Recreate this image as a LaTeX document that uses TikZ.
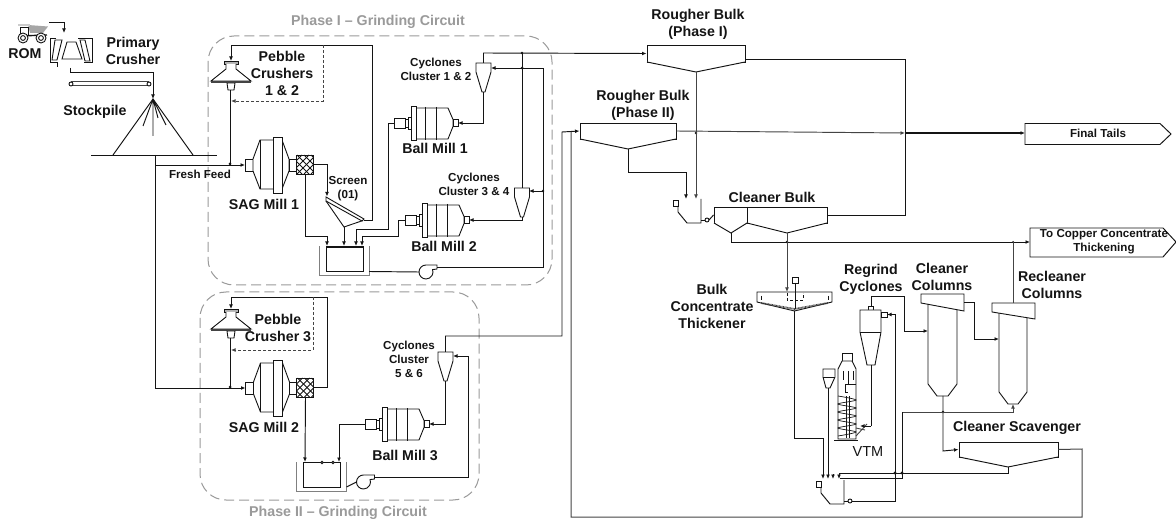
\documentclass[tikz,border=0pt]{standalone}
\usepackage{fontspec}
\setmainfont{Liberation Sans}
\usetikzlibrary{arrows.meta}
\definecolor{ink}{HTML}{141414}
\definecolor{mid}{HTML}{444444}
\definecolor{phase}{HTML}{9A9A9A}
\tikzset{
  pipe/.style={draw=ink,line width=.95pt},
  flow/.style={pipe,-{Latex[length=4.5pt,width=3.8pt]}},
  greyflow/.style={flow,draw=mid},
  equip/.style={draw=ink,line width=.9pt,fill=white},
  lab/.style={font=\fontsize{14.2}{17}\selectfont\bfseries,align=center,inner sep=0pt,text=ink},
  slab/.style={font=\fontsize{11.6}{14}\selectfont\bfseries,align=center,inner sep=0pt,text=ink},
  phaselab/.style={lab,text=phase},
  circuit/.style={draw=phase,line width=1pt,dash pattern=on 10pt off 5pt,rounded corners=26pt},
  cell/.style={draw=ink,line width=.95pt,inner sep=0pt,fill=white},
  dot/.style={fill=ink},
  pics/ballmill/.style={code={
    \draw[equip] (0,-5) rectangle (11,5);
    \draw[equip] (11,-4) rectangle (17,4);
    \draw[equip] (14,-6) rectangle (17,6);
    \draw[equip] (22,-15) -- (54,-15) -- (59,-3.5) -- (59,3.5) -- (54,16) -- (22,16) -- cycle;
    \draw[equip] (17,-17) rectangle (22,17);
    \draw[equip] (31,-16) -- (31,17) (42,-16) -- (42,17);
    \draw[equip] (59,-3.5) rectangle (64,3.5);
    \coordinate (-in) at (0,0);
    \coordinate (-out) at (64,0);
  }},
  pics/sagmill/.style={code={
    \draw[equip] (0,-6) rectangle (8,6);
    \draw[equip] (8,-6) -- (15,-25) -- (37,-25) -- (44,-6) -- (44,6) -- (37,24) -- (15,24) -- (8,6) -- cycle;
    \draw[equip] (15,-25) -- (15,24);
    \draw[equip] (28,-28) rectangle (37,28);
    \draw[equip] (44,-6) rectangle (51,6);
    \draw[equip] (51,-10) rectangle (68,9);
    \begin{scope}
      \clip (51,-10) rectangle (68,9);
      \foreach \k in {-20,-13,...,22}{
        \draw[ink,line width=.8pt] (51+\k,-10) -- (70+\k,9);
        \draw[ink,line width=.8pt] (70+\k,-10) -- (51+\k,9);
      }
    \end{scope}
    \draw[equip,fill=none] (51,-10) rectangle (68,9);
    \coordinate (-in) at (0,0);
    \coordinate (-east) at (68,-1);
    \coordinate (-south) at (60,9);
  }},
  pics/pebble/.style={code={
    \draw[equip,fill=gray!60] (-7,-9) rectangle (7,-6);
    \draw[equip] (-5,-6) -- (-5,-1) -- (-20,11) -- (20,11) -- (5,-1) -- (5,-6);
    \draw[draw=mid,line width=2pt] (-20,12) -- (20,12);
    \draw[equip] (-4,13) -- (4,13) -- (3,20) -- (-3,20) -- cycle;
    \coordinate (-top) at (0,-9);
    \coordinate (-out) at (-1,20);
  }},
  pics/cyclone/.style={code={
    \draw[equip] (-7.5,0) -- (7.5,0) -- (7.5,9) -- (1.5,29) -- (-1.5,29) -- (-7.5,9) -- cycle;
    \coordinate (-top) at (0,0);
    \coordinate (-in) at (7.5,4);
    \coordinate (-tip) at (0,29);
  }},
  pics/sump/.style={code={
    \draw[draw=gray,line width=1pt] (-7,0) -- (-7,29) -- (43,29) -- (43,0);
    \draw[draw=ink,line width=.95pt] (0,0) -- (0,25) -- (37,25) -- (37,0);
    \draw[draw=ink,line width=1.5pt] (0,0.5) -- (37,0.5);
    \coordinate (-out) at (43,25);
  }},
  pics/pump/.style={code={
    \draw[equip] (11,-7) -- (0,-7) arc[start angle=90,end angle=380,radius=7pt] -- (11,-3) -- cycle;
    \coordinate (-in) at (-7,0);
    \coordinate (-out) at (11,-5);
  }},
  pics/hopper/.style={code={
    \draw[equip] (0,0) rectangle (5,6);
    \draw[draw=ink,line width=.95pt] (5,6) -- (5,12) -- (14,23) -- (28,23) -- (28,-1);
    \draw[draw=ink,line width=.9pt] (28,20) -- (32,20);
    \draw[equip] (34,20) circle (2pt);
    \coordinate (-out) at (36,20);
  }},
}
\begin{document}
\begin{tikzpicture}[x=1pt,y=-1pt]
\useasboundingbox (0,0) rectangle (1176,521);
\fill[white] (0,0) rectangle (1176,521);

% circuits
\draw[circuit] (208,36) rectangle (552,285);
\draw[circuit] (200,292) rectangle (479,500);
\node[phaselab] (ph1) at (378,22) {Phase I -- Grinding Circuit};
\node[phaselab] (ph2) at (338,513) {Phase II -- Grinding Circuit};

% ROM truck and crusher
\fill[gray!70] (28,25) -- (48,26.5) -- (43,33) -- (30,33) -- cycle;
\fill[gray!40] (18,24) rectangle (30,26);
\draw[equip] (20,27) rectangle (28,35);
\draw[ink,line width=1.4pt] (19,36) -- (47,35);
\draw[equip] (23,38) circle (5pt); \draw[equip] (23,38) circle (2.4pt);
\draw[equip] (41,38) circle (5pt); \draw[equip] (41,38) circle (2.4pt);
\draw[pipe] (56,38) -- (50,38) -- (50,62) -- (58,62);
\draw[pipe] (78,38) -- (92,38) -- (92,62) -- (84,62);
\draw[equip,fill=none] (55,40) -- (62,40) -- (57,60) -- (52,60) -- cycle;
\draw[equip,fill=none] (80,40) -- (85,40) -- (90,61) -- (85,61) -- cycle;
\draw[equip,fill=none] (67,42) -- (76,42) -- (82,59) -- (62,59) -- cycle;
\coordinate (truckout) at (49,22);
\coordinate (crushin) at (64,33);
\coordinate (crushstem) at (57,67);
\coordinate (crushout) at (70,68);
\draw[flow] (truckout) -- (64,22) -- (crushin);
\draw[pipe] (57,62) -- (crushstem);
\node[lab] (rom) at (25,54) {ROM};
\node[lab] (primary) at (133,50.5) {Primary\\Crusher};
\draw[draw=mid,line width=1pt] (71,82) -- (149,82) (71,85.5) -- (149,85.5);
\draw[equip] (71,84) circle (2pt); \draw[equip] (149,84) circle (2pt);

% stockpile
\coordinate (apex) at (153,99);
\draw[flow] (crushout) -- (70,72) -- (153,72) -- (apex);
\draw[pipe] (113,155) -- (apex) -- (193,155);
\draw[pipe] (apex) -- (153,136) (apex) -- (143,126) (apex) -- (166,125) (apex) -- (158,118);
\draw[pipe] (91,155) -- (217,155);
\node[lab] (stock) at (95,112) {Stockpile};

% SAG 1 circuit
\pic (sag1) at (245,165) {sagmill};
\pic (pc1) at (231,70) {pebble};
\draw[pipe] (155,155) -- (155,388);
\draw[flow] (155,165) -- (sag1-in);
\node[slab] (ff) at (200,174) {Fresh Feed};
\draw[pipe] (pc1-out) -- (230,165);
\fill[dot] (230,164) circle (1.5pt);
\node[lab] (pclab) at (282,73) {Pebble\\Crushers\\1 \& 2};
\node[lab] (sag1lab) at (264,204) {SAG Mill 1};
\draw[draw=ink,line width=.9pt] (326,197) -- (364,219) -- (362,221) -- (326,201) -- cycle;
\draw[draw=ink,line width=.9pt] (326,201) -- (344,227) -- (363,220.5);
\coordinate (scrtop) at (327,196.5);
\coordinate (scrright) at (364,220);
\coordinate (scrbot) at (344,227);
\draw[flow] (sag1-east) -- (327,164) -- (scrtop);
\node[slab] (scr) at (348,189) {Screen\\(01)};
\draw[flow] (scrright) -- (372,220) -- (372,45) -- (231,45) -- (pc1-top);
\draw[greyflow,densely dashed,line width=.8pt] (323,45) -- (323,101) -- (231,101);

\pic (tank1) at (326,246.5) {sump};
\coordinate (t1a) at (327,246);
\coordinate (t1b) at (344,246);
\coordinate (t1c) at (356,246);
\coordinate (t1d) at (362,246);
\draw[flow] (sag1-south) -- (305,236) -- (327,236) -- (t1a);
\draw[flow] (scrbot) -- (t1b);

\pic (pump1) at (426,272) {pump};
\draw[pipe] (tank1-out) -- (pump1-in);

\pic (bm1) at (394,123) {ballmill};
\node[lab] (bm1lab) at (435,148) {Ball Mill 1};
\pic (bm2) at (405,220) {ballmill};
\node[lab] (bm2lab) at (444,246) {Ball Mill 2};
\draw[flow] (bm1-in) -- (388,123) -- (388,229) -- (356,229) -- (t1c);
\draw[flow] (bm2-in) -- (398,220) -- (398,236) -- (362,236) -- (t1d);

\pic (cy1) at (483.5,63) {cyclone};
\pic (cy2) at (522,188) {cyclone};
\node[slab] (cy1lab) at (436,69.5) {Cyclones\\Cluster 1 \& 2};
\node[slab] (cy2lab) at (474,184) {Cyclones\\Cluster 3 \& 4};
\draw[flow] (cy1-tip) -- (483.5,123) -- (bm1-out);
\draw[flow] (cy2-tip) -- (522,220) -- (bm2-out);

\node[cell,minimum width=98pt,minimum height=17pt] (rough1) at (696,53.5) {};
\draw[pipe,fill=white] (647,62) -- (696,72) -- (745,62);
\node[lab] (r1lab) at (698,24.5) {Rougher Bulk\\(Phase I)};
\draw[flow] (cy1-top) -- (483.5,53) -- (rough1.west);
\draw[pipe] (cy2-top) -- (522,53);
\fill[dot] (522,53) circle (1.3pt);
\draw[flow] (pump1-out) -- (543,267) -- (543,68) -- (491,68);
\draw[flow] (543,191) -- (529,191);
\fill[dot] (522,68) circle (1.5pt);
\fill[dot] (543,191) circle (1.3pt);

% SAG 2 circuit
\pic (sag2) at (245.5,388) {sagmill};
\pic (pc3) at (231,318) {pebble};
\draw[flow] (155,388) -- (sag2-in);
\draw[pipe] (pc3-out) -- (230,388);
\fill[dot] (230,387) circle (1.5pt);
\node[lab] (pc3lab) at (278,327.5) {Pebble\\Crusher 3};
\node[lab] (sag2lab) at (264,427) {SAG Mill 2};
\draw[flow] (sag2-east) -- (327,387) -- (327,297) -- (231,297) -- (pc3-top);
\draw[greyflow,densely dashed,line width=.8pt] (313,297) -- (313,350) -- (231,350);
\pic (tank2) at (303.5,462) {sump};
\coordinate (t2a) at (305,462);
\coordinate (t2b) at (339,462);
\draw[flow] (sag2-south) -- (t2a);
\pic (pump2) at (363.5,482) {pump};
\draw[pipe] (tank2-out) -- (pump2-in);
\pic (bm3) at (365,424) {ballmill};
\node[lab] (bm3lab) at (405,455) {Ball Mill 3};
\draw[flow] (bm3-in) -- (339,424) -- (t2b);
\pic (cy3) at (445.5,352) {cyclone};
\node[slab] (cy3lab) at (409,359.5) {Cyclones\\Cluster\\5 \& 6};
\draw[flow] (cy3-tip) -- (445.5,424) -- (bm3-out);
\draw[flow] (pump2-out) -- (468,477) -- (468,356) -- (453,356);
\foreach \q in {322,333}{\draw[equip] (\q,462.5) circle (1.2pt);}

% Rougher 2
\node[cell,minimum width=96pt,minimum height=16pt] (rough2) at (628,131) {};
\draw[pipe,fill=white] (580,139) -- (628,149) -- (676,139);
\node[lab] (r2lab) at (643,105.5) {Rougher Bulk\\(Phase II)};
\draw[flow] (cy3-top) -- (445.5,336) -- (562,336) -- (562,132) -- (rough2.west);

% Final tails
\draw[pipe,fill=white] (1025,123.5) -- (1160,123.5) -- (1171,134) -- (1160,144.5) -- (1025,144.5) -- cycle;
\coordinate (tailsin) at (1025,133);
\node[slab] (tails) at (1098,133) {Final Tails};
\coordinate (rbus) at (905,133);
\draw[greyflow] (rough2.east) -- (rbus);
\draw[pipe,line width=1.4pt,-{Latex[length=4.5pt,width=3.8pt]}] (rbus) -- (tailsin);
\fill[dot] (696,133) circle (1.4pt);

% Cleaner bulk
\pic (h1) at (673,200) {hopper};
\coordinate (h1a) at (686,199);
\coordinate (h1b) at (696,199);
\draw[flow] (628,149) -- (628,172) -- (686,172) -- (h1a);
\draw[greyflow] (696,72) -- (h1b);
\node[cell,minimum width=113pt,minimum height=16pt] (clean) at (770.5,215) {};
\draw[pipe] (747,207) -- (747,223);
\draw[pipe,fill=white] (714,223) -- (731,233) -- (747,223) -- (787,233) -- (827,223);
\draw[pipe] (h1-out) -- (clean.west);
\node[lab] (cleanlab) at (772,197) {Cleaner Bulk};
\draw[pipe] (clean.east) -- (905,215) -- (905,59) -- (745,59);

% copper
\draw[pipe,fill=white] (1030,228) -- (1163,228) -- (1176,242) -- (1163,257) -- (1030,257) -- cycle;
\coordinate (cuin) at (1030,242);
\node[slab] (cu) at (1104,242) {To Copper Concentrate\\Thickening};
\draw[flow] (731,233) -- (731,242) -- (cuin);
\fill[dot] (787,242) circle (1.4pt);
\fill[dot] (1013,242) circle (1pt);

% thickener
\draw[equip] (757,292) -- (832,292) -- (832,302) -- (794.5,311) -- (757,302) -- cycle;
\draw[draw=mid,line width=1.8pt,dash pattern=on .8pt off .6pt] (761,303) -- (794.5,309) -- (828,303);
\draw[ink,line width=.7pt] (761,296) -- (761,300) (828,296) -- (828,300);
\draw[ink,line width=.7pt,densely dashed] (787,293) -- (787,300) -- (803,300) -- (803,293);
\draw[equip] (792,277) rectangle (798,283);
\draw[pipe] (795,283) -- (795,309);
\coordinate (thin) at (787,292);
\draw[greyflow] (787,233) -- (thin);
\node[lab] (thlab) at (712,306) {Bulk\\Concentrate\\Thickener};

% regrind cyclones
\draw[equip] (868,306) rectangle (873,310);
\draw[equip] (860,310) -- (881,310) -- (881,332) -- (875,365) -- (867,365) -- (860,332) -- cycle;
\draw[equip] (860,332) -- (881,332);
\draw[equip] (881,312) rectangle (887,317);
\coordinate (rgtop) at (871,306);
\coordinate (rgin) at (887,314.5);
\coordinate (rgtip) at (871,365);
\node[lab] (rglab) at (871,279.5) {Regrind\\Cyclones};

% cleaner columns
\draw[equip] (928,303) -- (928,384) -- (937,396) -- (948,396) -- (957,384) -- (957,305);
\draw[equip] (921,294) -- (964,294) -- (964,311) -- (921,303) -- cycle;
\node[lab] (cclab) at (942,276.5) {Cleaner\\Columns};
\draw[equip] (999,312) -- (999,392) -- (1008,404) -- (1018,404) -- (1027,392) -- (1027,316);
\draw[equip] (992,303) -- (1035,303) -- (1035,319) -- (992,312) -- cycle;
\node[lab] (rclab) at (1052,284.5) {Recleaner\\Columns};
\coordinate (ccin) at (928,331);
\coordinate (rcin) at (999,339);
\draw[flow] (rgtop) -- (871,296) -- (904,296) -- (904,331) -- (ccin);
\draw[flow] (964,302) -- (974,302) -- (974,339) -- (rcin);
\draw[draw=mid,line width=1pt] (1013,242) -- (1013,303);

% scavenger
\node[cell,minimum width=99pt,minimum height=15pt] (scav) at (1008.5,449.5) {};
\draw[pipe,fill=white] (959,457) -- (1008,467) -- (1058,457);
\node[lab] (scavlab) at (1017,428) {Cleaner Scavenger};
\draw[flow] (943,396) -- (943,451) -- (scav.west);
\fill[dot] (943,412) circle (1.4pt);
\draw[draw=mid,line width=1pt] (571,132) -- (571,517) -- (1082,517) -- (1082,449) -- (scav.east);

% bottom mixer
\pic (h2) at (816,481) {hopper};
\coordinate (m1) at (823,479);
\coordinate (m2) at (828,479);
\coordinate (m3) at (833,479);
\coordinate (m4) at (839,479);
\draw[greyflow] (902,412) -- (1013,412) -- (1013,404);
\draw[pipe] (902,412) -- (902,478) -- (840,478);
\draw[flow] (833,474) -- (m3);
\draw[flow] (1008,467) -- (1008,473) -- (839,473) -- (m4);
\draw[pipe] (h2-out) -- (895,501) -- (895,314.5);
\draw[flow] (895,314.5) -- (rgin);
\fill[dot] (895,473) circle (1.6pt);
\fill[dot] (902,473) circle (1.6pt);
\draw[flow] (794,311) -- (794,438) -- (823,438) -- (m1);

% VTM
\draw[equip] (842,353) rectangle (852,361);
\draw[equip] (842,361) -- (838,369) -- (838,439) -- (856,439) -- (856,369) -- (852,361) -- cycle;
\draw[pipe] (834,440) -- (858,440);
\draw[equip] (823,369) -- (835,369) -- (835,377) -- (830,388) -- (826,388) -- (823,377) -- cycle;
\draw[equip] (823,377) -- (835,377);
\draw[ink,line width=.8pt] (843,371) -- (843,380) (848,371) -- (848,384) (853,371) -- (853,380);
\draw[ink,line width=.8pt] (856,384) -- (845,384) -- (845,392) -- (848,392);
\draw[ink,line width=.8pt] (846,396) -- (846,438) (849,396) -- (849,438);
\draw[ink,line width=.7pt] plot[smooth] coordinates {(838,396) (856,400) (838,404) (856,408) (838,412) (856,416) (838,420) (856,424) (838,428) (856,432) (838,436)};
\draw[draw=mid,line width=.9pt] (856,436) -- (867,424) (856,428) -- (865,430);
\draw[flow] (871,426) -- (860,426);
\draw[pipe] (rgtip) -- (871,426);
\draw[flow] (828,388) -- (m2);
\node[font=\fontsize{14.5}{17}\selectfont,inner sep=0pt,text=ink] (vtm) at (868,452) {VTM};
\end{tikzpicture}
\end{document}
